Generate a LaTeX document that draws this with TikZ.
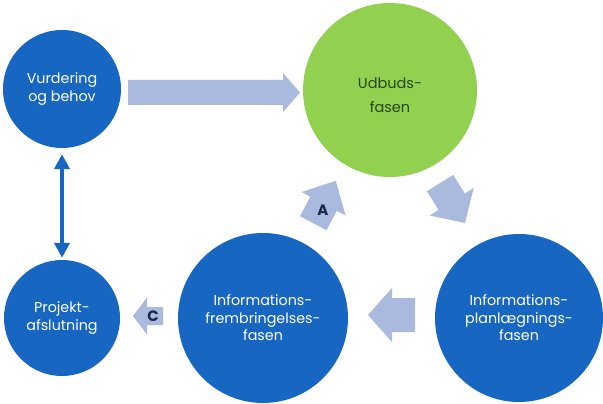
\documentclass[tikz,border=0pt]{standalone}
\usepackage{fontspec}
\setmainfont{Poppins}
\usetikzlibrary{arrows.meta}
\definecolor{cblue}{RGB}{22,102,194}
\definecolor{cgreen}{RGB}{146,208,80}
\definecolor{carrow}{RGB}{170,185,222}
\definecolor{cgtext}{RGB}{40,70,25}
\definecolor{cletter}{RGB}{25,40,75}
\tikzset{
  phase/.style={circle, fill=cblue, text=white, align=center, inner sep=0pt,
    font=\fontsize{14.3}{17.5}\selectfont},
  letter/.style={text=cletter, font=\fontsize{15}{15}\selectfont\bfseries, inner sep=0pt},
  link/.style={draw=cblue, line width=4.5pt, {Triangle[width=15pt,length=15pt]}-{Triangle[width=15pt,length=15pt]}}
}
% \blockarrow{cx}{cy}{angle}{length}{shaft}{head}{headlen}
\newcommand{\blockarrow}[7]{%
  \begin{scope}[shift={(#1,#2)}, rotate=#3]
    \fill[carrow] (-#4/2,-#5/2) -- (#4/2-#7,-#5/2) -- (#4/2-#7,-#6/2) -- (#4/2,0)
      -- (#4/2-#7,#6/2) -- (#4/2-#7,#5/2) -- (-#4/2,#5/2) -- cycle;
  \end{scope}}
\begin{document}
\begin{tikzpicture}[x=1pt,y=-1pt]
\useasboundingbox (0,0) rectangle (603,404);
% block arrows
\fill[carrow] (128,80) -- (283,80) -- (283,73) -- (300,92.5) -- (283,112) -- (283,105) -- (128,105) -- cycle;
\blockarrow{452.5}{203}{-58}{47}{31}{52}{25}
\blockarrow{391.5}{315}{180}{47}{34}{54}{24}
\blockarrow{324.5}{202}{62}{48}{30}{50}{26}
\blockarrow{148}{316}{180}{30}{18}{37}{14}
% circles
\node[phase, minimum size=118pt] (vur) at (62,89) {Vurdering\\og behov};
\node[phase, fill=cgreen, text=cgtext, minimum size=174pt,
  font=\fontsize{14.5}{24.5}\selectfont] (udb) at (390,90) {};
\node[text=cgtext, align=center, font=\fontsize{14.5}{24.5}\selectfont] (udbt) at (390,95) {Udbuds-\\fasen};
\node[phase, minimum size=170pt] (frem) at (263,318) {Informations-\\frembringelses-\\fasen};
\node[phase, minimum size=168pt] (plan) at (519,318) {Informations-\\planlægnings-\\fasen};
\node[phase, minimum size=116pt] (proj) at (62,318) {Projekt-\\afslutning};
% letters
\node[letter] (la) at (323,210) {A};
\node[letter] (lc) at (153,316) {C};
% double arrow
\draw[link, shorten <=6pt, shorten >=2pt] (vur.south) -- (proj.north);
\end{tikzpicture}
\end{document}
